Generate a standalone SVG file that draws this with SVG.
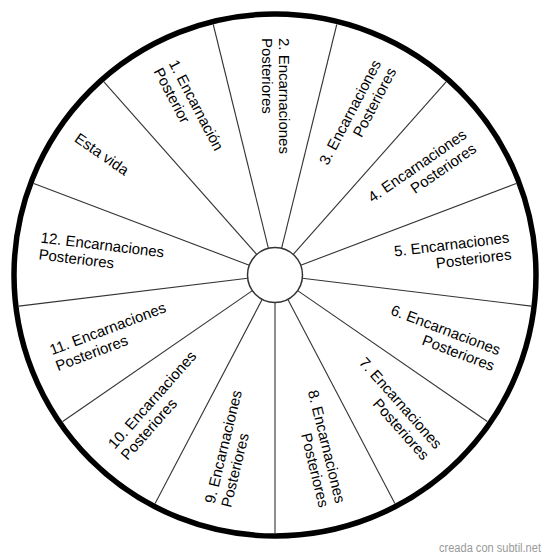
<svg xmlns="http://www.w3.org/2000/svg" width="550" height="558" viewBox="0 0 550 558">
<style>
.lbl{font-family:"Liberation Sans",Arial,Helvetica,sans-serif;font-size:15px;fill:#000}
.r{text-anchor:end}
.l{text-anchor:start}
.spoke{stroke:#333;stroke-width:1.1}
.wm{font-family:"Liberation Sans",Arial,sans-serif;font-size:12px;fill:#999;text-anchor:end}
</style>
<rect width="550" height="558" fill="#fff"/>
<g id="wheel">
<circle cx="275" cy="275" r="261" fill="#fff" stroke="#000" stroke-width="5.5"/>
</g>
<g id="connectors">
<line class="spoke" x1="302.5" y1="275" x2="533" y2="275" transform="rotate(90 275 275)"/>
<line class="spoke" x1="302.5" y1="275" x2="533" y2="275" transform="rotate(117.6923 275 275)"/>
<line class="spoke" x1="302.5" y1="275" x2="533" y2="275" transform="rotate(145.3846 275 275)"/>
<line class="spoke" x1="302.5" y1="275" x2="533" y2="275" transform="rotate(173.0769 275 275)"/>
<line class="spoke" x1="302.5" y1="275" x2="533" y2="275" transform="rotate(200.7692 275 275)"/>
<line class="spoke" x1="302.5" y1="275" x2="533" y2="275" transform="rotate(228.4615 275 275)"/>
<line class="spoke" x1="302.5" y1="275" x2="533" y2="275" transform="rotate(256.1538 275 275)"/>
<line class="spoke" x1="302.5" y1="275" x2="533" y2="275" transform="rotate(283.8462 275 275)"/>
<line class="spoke" x1="302.5" y1="275" x2="533" y2="275" transform="rotate(311.5385 275 275)"/>
<line class="spoke" x1="302.5" y1="275" x2="533" y2="275" transform="rotate(339.2308 275 275)"/>
<line class="spoke" x1="302.5" y1="275" x2="533" y2="275" transform="rotate(6.9231 275 275)"/>
<line class="spoke" x1="302.5" y1="275" x2="533" y2="275" transform="rotate(34.6154 275 275)"/>
<line class="spoke" x1="302.5" y1="275" x2="533" y2="275" transform="rotate(62.3077 275 275)"/>
</g>
<g id="hub">
<circle cx="275" cy="275" r="27.5" fill="#fff" stroke="#333" stroke-width="1.5"/>
</g>
<g id="esta-vida" transform="rotate(34.6154 275 275)">
<text class="lbl l" x="33" y="279">Esta vida</text>
</g>
<g id="enc-1" transform="rotate(62.3077 275 275)">
<text class="lbl l" x="38" y="271">1. Encarnación</text>
<text class="lbl l" x="38" y="288">Posterior</text>
</g>
<g id="enc-2" transform="rotate(90 275 275)">
<text class="lbl l" x="38" y="271">2. Encarnaciones</text>
<text class="lbl l" x="38" y="288">Posteriores</text>
</g>
<g id="enc-3" transform="rotate(-62.3077 275 275)">
<text class="lbl r" x="512" y="271">3. Encarnaciones</text>
<text class="lbl r" x="512" y="288">Posteriores</text>
</g>
<g id="enc-4" transform="rotate(-34.6154 275 275)">
<text class="lbl r" x="512" y="271">4. Encarnaciones</text>
<text class="lbl r" x="512" y="288">Posteriores</text>
</g>
<g id="enc-5" transform="rotate(-6.9231 275 275)">
<text class="lbl r" x="512" y="271">5. Encarnaciones</text>
<text class="lbl r" x="512" y="288">Posteriores</text>
</g>
<g id="enc-6" transform="rotate(20.7692 275 275)">
<text class="lbl r" x="512" y="271">6. Encarnaciones</text>
<text class="lbl r" x="512" y="288">Posteriores</text>
</g>
<g id="enc-7" transform="rotate(48.4615 275 275)">
<text class="lbl r" x="512" y="271">7. Encarnaciones</text>
<text class="lbl r" x="512" y="288">Posteriores</text>
</g>
<g id="enc-8" transform="rotate(76.1538 275 275)">
<text class="lbl r" x="512" y="271">8. Encarnaciones</text>
<text class="lbl r" x="512" y="288">Posteriores</text>
</g>
<g id="enc-9" transform="rotate(-76.1538 275 275)">
<text class="lbl l" x="38" y="271">9. Encarnaciones</text>
<text class="lbl l" x="38" y="288">Posteriores</text>
</g>
<g id="enc-10" transform="rotate(-48.4615 275 275)">
<text class="lbl l" x="38" y="271">10. Encarnaciones</text>
<text class="lbl l" x="38" y="288">Posteriores</text>
</g>
<g id="enc-11" transform="rotate(-20.7692 275 275)">
<text class="lbl l" x="38" y="271">11. Encarnaciones</text>
<text class="lbl l" x="38" y="288">Posteriores</text>
</g>
<g id="enc-12" transform="rotate(6.9231 275 275)">
<text class="lbl l" x="38" y="271">12. Encarnaciones</text>
<text class="lbl l" x="38" y="288">Posteriores</text>
</g>
<text class="wm" x="541" y="552" textLength="102" lengthAdjust="spacingAndGlyphs">creada con subtil.net</text>
</svg>
